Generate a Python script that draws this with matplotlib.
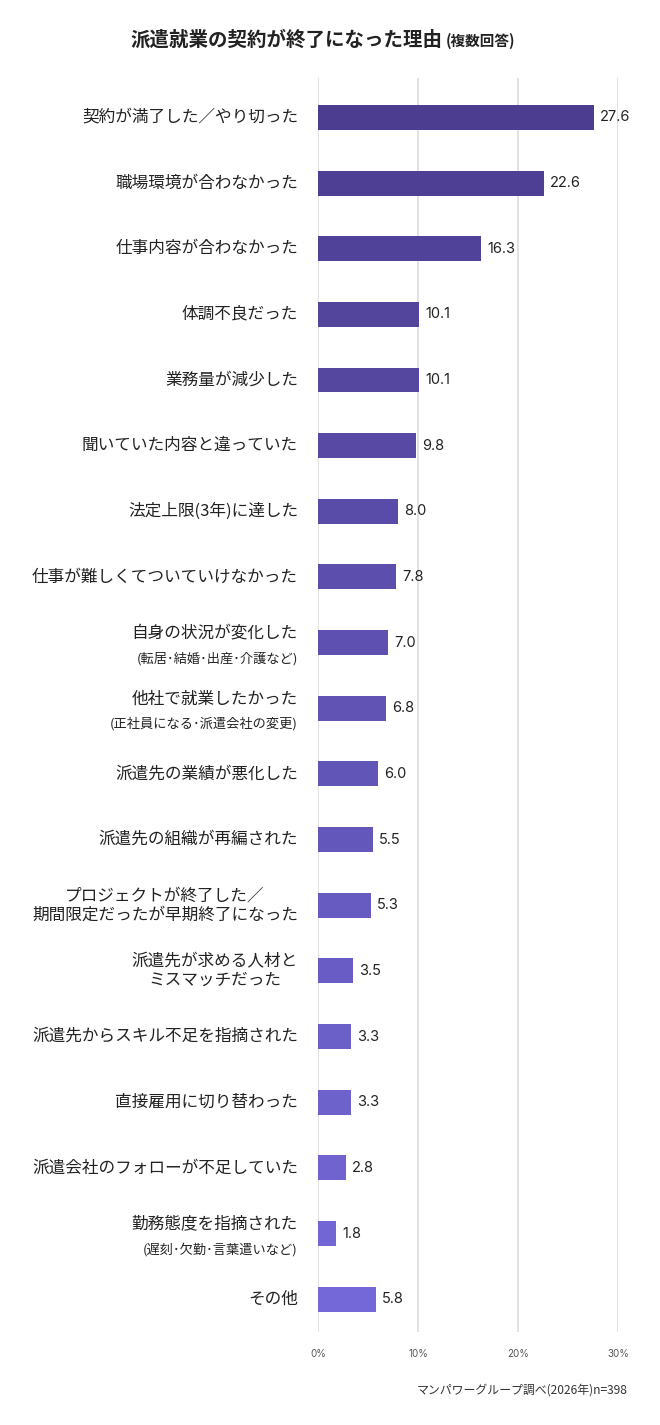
import matplotlib
matplotlib.use("Agg")
import matplotlib.pyplot as plt
import numpy as np
from matplotlib.colors import LinearSegmentedColormap

plt.rcParams['font.family'] = ['Noto Sans CJK JP', 'DejaVu Sans']

labels_main = ["契約が満了した／やり切った", "職場環境が合わなかった", "仕事内容が合わなかった",
               "体調不良だった", "業務量が減少した", "聞いていた内容と違っていた",
               "法定上限(3年)に達した", "仕事が難しくてついていけなかった", "自身の状況が変化した",
               "他社で就業したかった", "派遣先の業績が悪化した", "派遣先の組織が再編された",
               "プロジェクトが終了した／\n期間限定だったが早期終了になった", "派遣先が求める人材と\nミスマッチだった",
               "派遣先からスキル不足を指摘された", "直接雇用に切り替わった",
               "派遣会社のフォローが不足していた", "勤務態度を指摘された", "その他"]
labels_sub = ["", "", "", "", "", "", "", "", "(転居･結婚･出産･介護など)",
              "(正社員になる･派遣会社の変更)", "", "", "", "", "", "", "", "(遅刻･欠勤･言葉遣いなど)", ""]
values = [27.6, 22.6, 16.3, 10.1, 10.1, 9.8, 8.0, 7.8, 7.0, 6.8, 6.0, 5.5, 5.3, 3.5, 3.3, 3.3, 2.8, 1.8, 5.8]
xticks = [0, 10, 20, 30]

fig = plt.figure(figsize=(6.6, 14.25), dpi=100)
ax = fig.add_axes([318/660, 1 - 1332/1425, 300/660, (1332 - 78)/1425])
n = len(values)
y = np.arange(n)
cmap = LinearSegmentedColormap.from_list("p", ["#4c3d90", "#7468d8"])
colors = [cmap(i / (n - 1)) for i in range(n)]
ax.barh(y, values, height=0.38, color=colors, zorder=3)
ax.set_ylim(n - 0.5, -0.6)
ax.set_xlim(0, 30)
ax.set_xticks(xticks)
ax.set_xticklabels([f"{t}%" for t in xticks], fontsize=7, color="#555555", family=['Inter', 'DejaVu Sans'])
ax.tick_params(axis='x', length=0, pad=12)
ax.set_yticks([])
for s in ax.spines.values():
    s.set_visible(False)
ax.grid(axis='x', color="#dddddd", linewidth=1.2, zorder=0)
for yi, v in zip(y, values):
    ax.text(v + 0.6, yi, f"{v:.1f}", va='center', ha='left', fontsize=10.5, color="#222222",
            family=['Inter', 'DejaVu Sans'])
for yi, m, s in zip(y, labels_main, labels_sub):
    if s:
        ax.text(-2.0, yi - 0.14, m, ha='right', va='center', fontsize=12, color="#222222")
        ax.text(-2.0, yi + 0.24, s, ha='right', va='center', fontsize=9.5, color="#222222")
    else:
        ax.text(-2.0, yi, m, ha='right', va='center', fontsize=12, color="#222222",
                multialignment='center', linespacing=1.15)

fig.text(130/660, 1 - 40/1425, "派遣就業の契約が終了になった理由", fontsize=14, fontweight='bold',
         ha='left', va='center', color="#222222")
fig.text(446/660, 1 - 41/1425, "(複数回答)", fontsize=10.5, fontweight='bold', ha='left', va='center', color="#222222")
fig.text(628/660, 1 - 1390/1425, "マンパワーグループ調べ(2026年)n=398", fontsize=8.6, ha='right', va='center', color="#333333")
fig.savefig("out.png", dpi=100, facecolor="white")
